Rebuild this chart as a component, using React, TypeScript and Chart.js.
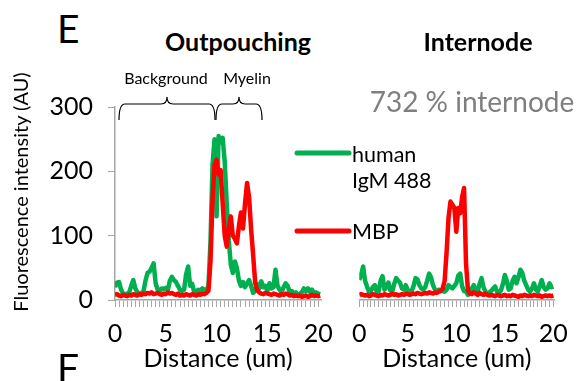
import React, { useEffect, useRef } from 'react';
import { Chart, registerables } from 'chart.js';

Chart.register(...registerables);
Chart.defaults.font.family = 'Lato, "Open Sans", sans-serif';

// ---- data (fluorescence intensity, AU), sampled every 0.2 um ----
const STEP_UM = 0.2;
const outpouchingGreen = [
  20, 27, 28, 16, 10, 9, 10, 12, 22, 31,
  18, 12, 10, 11, 13, 30, 42, 44, 50, 57,
  26, 16, 14, 18, 17, 19, 15, 30, 36, 31,
  28, 22, 16, 14, 16, 40, 52, 22, 25, 12,
  13, 16, 14, 18, 16, 15, 22, 90, 210, 250,
  130, 255, 245, 252, 215, 150, 93, 55, 42, 60,
  50, 30, 22, 28, 20, 25, 31, 22, 11, 14,
  25, 18, 29, 20, 22, 14, 26, 18, 20, 47,
  22, 16, 12, 20, 26, 22, 12, 14, 10, 12,
  8, 10, 12, 18, 14, 18, 12, 16, 10, 12,
  10, 9,
];
const outpouchingRed = [
  8, 9, 7, 6, 8, 7, 6, 8, 7, 9,
  8, 7, 9, 8, 10, 9, 11, 10, 12, 9,
  10, 11, 9, 8, 10, 9, 12, 10, 11, 9,
  8, 10, 7, 8, 7, 9, 8, 7, 9, 8,
  7, 9, 8, 10, 9, 11, 14, 60, 154, 210,
  218, 195, 202, 150, 100, 83, 110, 130, 100, 95,
  88, 115, 136, 111, 150, 182, 160, 110, 70, 27,
  15, 12, 10, 9, 11, 10, 9, 8, 10, 9,
  8, 7, 9, 8, 10, 9, 7, 8, 6, 7,
  6, 7, 5, 6, 7, 5, 6, 8, 6, 7,
  6, 7,
];
const internodeGreen = [
  31, 40, 52, 30, 21, 13, 14, 20, 23, 13,
  14, 30, 37, 16, 20, 27, 15, 13, 25, 34,
  30, 27, 18, 16, 23, 15, 13, 14, 22, 34,
  32, 23, 18, 16, 20, 30, 41, 35, 23, 16,
  14, 16, 15, 14, 13, 16, 23, 20, 18, 22,
  26, 38, 41, 21, 14, 13, 8, 10, 18, 23,
  15, 13, 25, 34, 20, 13, 10, 12, 14, 18,
  21, 13, 12, 15, 25, 39, 30, 16, 18, 30,
  36, 26, 35, 47, 42, 30, 23, 16, 13, 18,
  26, 16, 13, 22, 31, 20, 16, 18, 26, 20,
  21,
];
const internodeRed = [
  8, 9, 8, 7, 8, 6, 7, 9, 8, 7,
  6, 8, 7, 9, 8, 7, 8, 10, 8, 9,
  7, 8, 9, 8, 10, 9, 8, 9, 10, 9,
  11, 10, 9, 10, 11, 10, 12, 11, 10, 12,
  11, 13, 14, 18, 30, 75, 128, 153, 148, 143,
  106, 143, 135, 160, 174, 57, 15, 10, 9, 12,
  10, 8, 11, 9, 8, 10, 8, 7, 8, 7,
  6, 8, 7, 6, 7, 8, 6, 7, 6, 8,
  7, 6, 5, 7, 6, 8, 7, 6, 7, 6,
  8, 7, 6, 7, 5, 6, 7, 6, 7, 6,
  7,
];
const xTickLabels = [0, 5, 10, 15, 20];
const yTickLabels = [0, 100, 200, 300];
const TICK_MARK_STEP = 0.4;

const GREEN = '#00b050';
const RED = '#ff0000';
const AXIS = '#a6a6a6';
const FONT = 'Lato, "Open Sans", sans-serif';
const TICK_FONT = 25;
const Y_PAD = 15;
const TOP_PAD = (TICK_FONT * 1.2) / 2 + Y_PAD;

const toPoints = (vals: number[]) => vals.map((v, i) => ({ x: +(i * STEP_UM).toFixed(2), y: v }));
const tickMarks = (max: number) => {
  const out: { value: number }[] = [];
  for (let v = 0; v <= max + 1e-6; v += TICK_MARK_STEP) out.push({ value: +v.toFixed(2) });
  return out;
};

function buildConfig(green: number[], red: number[], xMax: number, showY: boolean, padLeft: number, padRight: number): any {
  return {
    type: 'line',
    data: {
      datasets: [
        { label: 'MBP', data: toPoints(red), borderColor: RED, borderWidth: 4.5, pointRadius: 0, tension: 0, borderJoinStyle: 'round', order: 0 },
        { label: 'human IgM 488', data: toPoints(green), borderColor: GREEN, borderWidth: 4.5, pointRadius: 0, tension: 0, borderJoinStyle: 'round', order: 1 },
      ],
    },
    options: {
      animation: false,
      responsive: true,
      maintainAspectRatio: false,
      events: [],
      layout: { padding: { top: TOP_PAD, right: padRight, left: padLeft, bottom: 0 } },
      plugins: { legend: { display: false }, tooltip: { enabled: false } },
      scales: {
        x: {
          type: 'linear', min: 0, max: xMax, position: 'bottom',
          afterBuildTicks: (s: any) => { s.ticks = tickMarks(xMax); },
          ticks: { display: false },
          grid: { drawOnChartArea: false, tickLength: 7, color: AXIS, lineWidth: 1 },
          border: { color: AXIS, width: 1.5 },
          afterFit: (s: any) => { s.height = 7; },
        },
        xl: {
          type: 'linear', min: 0, max: xMax, position: 'bottom',
          afterBuildTicks: (s: any) => { s.ticks = xTickLabels.map((v) => ({ value: v })); },
          ticks: { font: { size: TICK_FONT, family: FONT }, color: '#000', padding: 12, maxRotation: 0, autoSkip: false },
          grid: { display: false, drawTicks: false },
          border: { display: false },
          title: { display: true, text: 'Distance (um)', font: { size: 25, family: FONT }, color: '#000', padding: { top: 0, bottom: 7 } },
          afterFit: (s: any) => { s.height = 74; },
        },
        y: {
          display: showY,
          min: 0, max: 300,
          afterBuildTicks: (s: any) => { s.ticks = yTickLabels.map((v) => ({ value: v })); },
          ticks: { font: { size: TICK_FONT, family: FONT }, color: '#000', padding: Y_PAD },
          grid: { drawOnChartArea: false, tickLength: 7, color: AXIS },
          border: { color: AXIS, width: 1.5 },
          afterFit: (s: any) => { if (showY) s.width = 115; },
        },
      },
    },
  };
}

function ChartBox(props: { left: number; top: number; width: number; height: number; config: () => any }) {
  const ref = useRef<HTMLCanvasElement | null>(null);
  useEffect(() => {
    const chart = new Chart(ref.current as HTMLCanvasElement, props.config());
    return () => chart.destroy();
  }, []);
  return (
    <div style={{ position: 'absolute', left: props.left, top: props.top, width: props.width, height: props.height }}>
      <canvas ref={ref} />
    </div>
  );
}

function Txt(props: { x: number; y: number; size: number; children: any; bold?: boolean; color?: string; anchor?: 'left' | 'center'; rotate?: number }) {
  const tx = props.anchor === 'left' ? '0' : '-50%';
  return (
    <div
      style={{
        position: 'absolute', left: props.x, top: props.y, fontSize: props.size, lineHeight: 1,
        fontWeight: props.bold ? 700 : 400, color: props.color || '#000', whiteSpace: 'nowrap',
        transform: `translate(${tx}, -50%)${props.rotate ? ` rotate(${props.rotate}deg)` : ''}`,
        transformOrigin: 'center center',
      }}
    >
      {props.children}
    </div>
  );
}

function bracePath(x1: number, x2: number, yLine: number, yTip: number, yEnd: number) {
  const xm = (x1 + x2) / 2;
  const r = 6;
  return `M ${x1} ${yEnd} Q ${x1} ${yLine} ${x1 + r} ${yLine} L ${xm - r} ${yLine} Q ${xm} ${yLine} ${xm} ${yTip} Q ${xm} ${yLine} ${xm + r} ${yLine} L ${x2 - r} ${yLine} Q ${x2} ${yLine} ${x2} ${yEnd}`;
}

const CHART_TOP = 107 - TOP_PAD;

export default function App() {
  return (
    <div style={{ position: 'absolute', left: 0, top: 0, width: 584, height: 381, overflow: 'hidden', background: '#fff', fontFamily: FONT }}>
      <ChartBox left={0} top={CHART_TOP} width={345} height={381 - CHART_TOP} config={() => buildConfig(outpouchingGreen, outpouchingRed, 20.3, true, 0, 17)} />
      <ChartBox left={340} top={CHART_TOP} width={240} height={381 - CHART_TOP} config={() => buildConfig(internodeGreen, internodeRed, 20.1, false, 15, 23)} />

      <Txt x={57} y={28} size={39} anchor="left">E</Txt>
      <Txt x={57} y={367} size={39} anchor="left">F</Txt>
      <Txt x={238} y={41} size={25} bold>Outpouching</Txt>
      <Txt x={478} y={41} size={25} bold>Internode</Txt>
      <Txt x={166} y={78} size={16}>Background</Txt>
      <Txt x={247} y={78} size={16}>Myelin</Txt>
      <Txt x={472} y={101} size={28} color="#7f7f7f">732 % internode</Txt>
      <Txt x={20} y={192} size={20} rotate={-90}>Fluorescence intensity (AU)</Txt>

      <svg width={584} height={381} style={{ position: 'absolute', left: 0, top: 0 }}>
        <path d={bracePath(119, 215, 104, 97, 120)} stroke="#000" strokeWidth={1.2} fill="none" />
        <path d={bracePath(216, 262, 104, 97, 120)} stroke="#000" strokeWidth={1.2} fill="none" />
        <line x1={297} y1={153} x2={349} y2={153} stroke={GREEN} strokeWidth={5} strokeLinecap="round" />
        <line x1={297} y1={231} x2={349} y2={231} stroke={RED} strokeWidth={5} strokeLinecap="round" />
      </svg>
      <Txt x={352} y={155} size={21.5} anchor="left">human</Txt>
      <Txt x={352} y={181} size={21.5} anchor="left">IgM 488</Txt>
      <Txt x={352} y={232} size={21.5} anchor="left">MBP</Txt>
    </div>
  );
}
